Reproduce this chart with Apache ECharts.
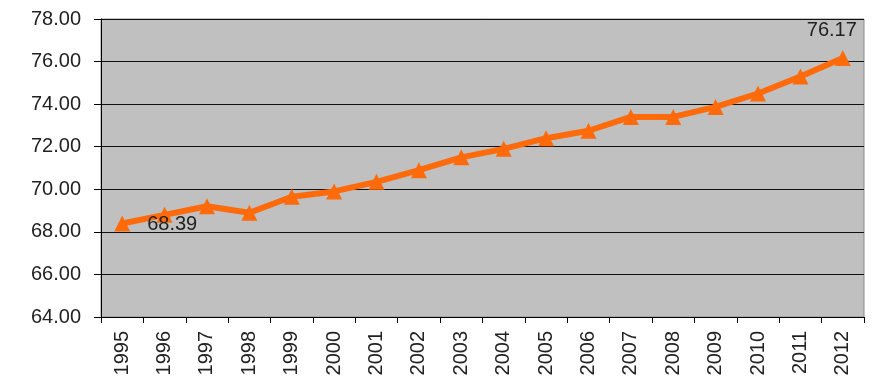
<!DOCTYPE html>
<html>
<head>
<meta charset="utf-8">
<script src="https://cdn.jsdelivr.net/npm/echarts@6/dist/echarts.min.js"></script>
<style>
  html, body { margin: 0; padding: 0; background: #fff; }
  #chart { width: 873px; height: 383px; }
</style>
</head>
<body>
<div id="chart"></div>
<script>
// Yearly values, 1995–2012
const years = ['1995','1996','1997','1998','1999','2000','2001','2002','2003',
               '2004','2005','2006','2007','2008','2009','2010','2011','2012'];
const values = [68.39, 68.80, 69.20, 68.90, 69.65, 69.90, 70.35, 70.90, 71.50,
                71.90, 72.40, 72.75, 73.40, 73.40, 73.87, 74.50, 75.30, 76.17];
// Points whose value is printed beside the marker
const labelledYears = ['1995', '2012'];

const FONT = 'Liberation Sans, Arial, sans-serif';
const chart = echarts.init(document.getElementById('chart'));

const seriesData = values.map((v, i) => {
  const item = { value: v };
  if (labelledYears.includes(years[i])) {
    item.label = {
      show: true,
      position: i === 0 ? 'right' : 'top',
      offset: i === 0 ? [12, 1] : [-11, -4]
    };
  }
  return item;
});

chart.setOption({
  animation: false,
  grid: {
    left: 101, top: 19, right: 9, bottom: 66,
    show: true,
    backgroundColor: '#c0c0c0',
    borderColor: '#8a8a8a',
    borderWidth: 1
  },
  xAxis: {
    type: 'category',
    data: years,
    boundaryGap: true,
    axisLine: { lineStyle: { color: '#000', width: 1 } },
    axisTick: { show: true, length: 6, lineStyle: { color: '#000' } },
    axisLabel: {
      rotate: 90,
      margin: 14,
      color: '#222',
      fontFamily: FONT,
      fontSize: 20
    },
    splitLine: { show: false }
  },
  yAxis: {
    type: 'value',
    min: 64,
    max: 78,
    interval: 2,
    axisLine: { show: true, lineStyle: { color: '#000', width: 1 } },
    axisTick: { show: true, length: 7, lineStyle: { color: '#000' } },
    axisLabel: {
      margin: 20,
      color: '#222',
      fontFamily: FONT,
      fontSize: 20,
      formatter: v => v.toFixed(2)
    },
    splitLine: { show: true, lineStyle: { color: '#111', width: 1.2 } }
  },
  series: [{
    type: 'line',
    data: seriesData,
    symbol: 'triangle',
    symbolSize: 16,
    lineStyle: { color: '#ff6a0a', width: 6 },
    itemStyle: { color: '#ff6a0a' },
    label: {
      show: false,
      color: '#222',
      fontFamily: FONT,
      fontSize: 20,
      formatter: p => p.value.toFixed(2)
    },
    z: 3
  }]
});
</script>
</body>
</html>
